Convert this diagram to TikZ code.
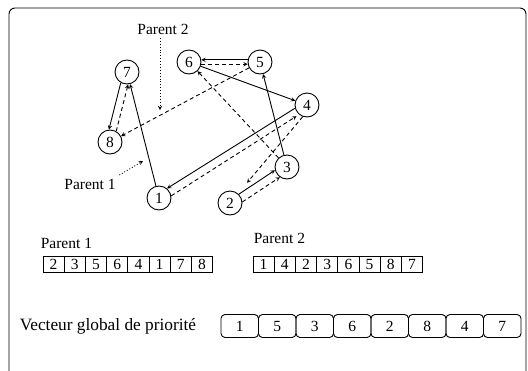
\documentclass[tikz,border=0pt]{standalone}
\usepackage{fontspec}
\setmainfont{Liberation Serif}
\usetikzlibrary{positioning}

\begin{document}
\begin{tikzpicture}[x=1pt, y=-1pt, node distance=0pt, line width=0.9pt,
    font=\fontsize{15.5}{18}\selectfont,
    tache/.style={draw, circle, minimum size=24pt, inner sep=0pt},
    cell/.style={draw, rectangle, minimum width=21.2pt, minimum height=16pt, inner sep=0pt, outer sep=0pt},
    prio/.style={draw, rectangle, rounded corners=4pt, minimum width=37.5pt, minimum height=23pt, inner sep=0pt, outer sep=0pt},
    p1edge/.style={-stealth},
    p2edge/.style={-stealth, dash pattern=on 4pt off 3pt}]
    \useasboundingbox (0,0) rectangle (528,370);
    \draw[rounded corners=6pt] (9,8) rectangle (526,400);

    % graph of the two parents
    \node[tache] (n7) at (127,72) {7};
    \node[tache] (n6) at (189,62) {6};
    \node[tache] (n5) at (260,62) {5};
    \node[tache] (n4) at (307,105) {4};
    \node[tache] (n8) at (110,142) {8};
    \node[tache] (n3) at (287,167) {3};
    \node[tache] (n1) at (159,198) {1};
    \node[tache] (n2) at (230,203) {2};

    % parent 1: 2 3 5 6 4 1 7 8
    \draw[p1edge] (n2.45) -- (n3.195);
    \draw[p1edge] (n3) -- (n5);
    \draw[p1edge] (n5.170) -- (n6.10);
    \draw[p1edge] (n6) -- (n4);
    \draw[p1edge] (n4.195) -- (n1.50);
    \draw[p1edge] (n1) -- (n7);
    \draw[p1edge] (n7.240) -- (n8.95);

    % parent 2: 1 4 2 3 6 5 8 7
    \draw[p2edge, shorten >=3pt] (n1.10) -- (n4.230);
    \draw[p2edge, shorten >=14pt] (n4.250) -- (n2);
    \draw[p2edge] (n2.5) -- (n3.235);
    \draw[p2edge] (n3) -- (n6);
    \draw[p2edge] (n6.-10) -- (n5.190);
    \draw[p2edge] (n5) -- (n8);
    \draw[p2edge] (n8.60) -- (n7.275);

    \node (lab2) at (163,29) {Parent 2};
    \coordinate (tip2) at (160,110);
    \draw[dotted, -stealth] (lab2.south -| tip2) -- (tip2);
    \node (lab1) at (90,184) {Parent 1};
    \coordinate (tip1) at (143,161);
    \draw[dotted, -stealth] (lab1.north east) -- (tip1);

    % the two chromosomes
    \node[anchor=west] (lbl1) at (37,243) {Parent 1};
    \node[cell] (pa1) at (53.6,264) {2};
    \node[cell, right=of pa1] (pa2) {3};
    \node[cell, right=of pa2] (pa3) {5};
    \node[cell, right=of pa3] (pa4) {6};
    \node[cell, right=of pa4] (pa5) {4};
    \node[cell, right=of pa5] (pa6) {1};
    \node[cell, right=of pa6] (pa7) {7};
    \node[cell, right=of pa7] (pa8) {8};

    \node[anchor=west] (lbl2) at (250,238) {Parent 2};
    \node[cell] (pb1) at (263.6,264) {1};
    \node[cell, right=of pb1] (pb2) {4};
    \node[cell, right=of pb2] (pb3) {2};
    \node[cell, right=of pb3] (pb4) {3};
    \node[cell, right=of pb4] (pb5) {6};
    \node[cell, right=of pb5] (pb6) {5};
    \node[cell, right=of pb6] (pb7) {8};
    \node[cell, right=of pb7] (pb8) {7};

    % global priority vector
    \node[anchor=west, font=\fontsize{17.3}{18}\selectfont] (vect) at (16,326) {Vecteur global de priorité};
    \node[prio] (vg1) at (239.75,326) {1};
    \node[prio, right=of vg1] (vg2) {5};
    \node[prio, right=of vg2] (vg3) {3};
    \node[prio, right=of vg3] (vg4) {6};
    \node[prio, right=of vg4] (vg5) {2};
    \node[prio, right=of vg5] (vg6) {8};
    \node[prio, right=of vg6] (vg7) {4};
    \node[prio, right=of vg7] (vg8) {7};
\end{tikzpicture}
\end{document}
